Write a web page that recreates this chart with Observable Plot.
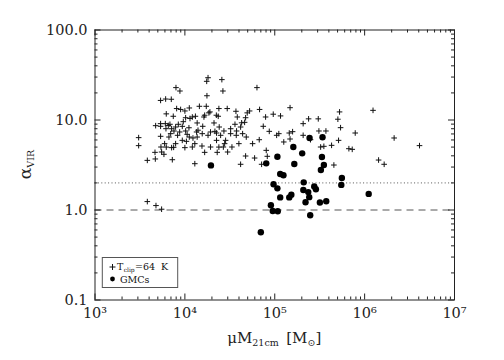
<!DOCTYPE html>
<html><head><meta charset="utf-8">
<script src="https://cdn.jsdelivr.net/npm/d3@7"></script>
<script src="https://cdn.jsdelivr.net/npm/@observablehq/plot@0.6"></script>
<style>
html,body{margin:0;padding:0;background:#fff;}
#chart{width:504px;height:360px;position:relative;}
svg{display:block;}
</style></head><body><div id="chart"></div>
<script>
// ---- data (mass in Msun, virial parameter) ----
const crossMass = [3.06e3,3.06e3,3.82e3,3.82e3,4.65e3,4.69e3,4.73e3,4.77e3,5.37e3,5.37e3,5.37e3,5.42e3,5.51e3,5.51e3,5.37e3,
6.11e3,6.21e3,6.06e3,6.16e3,5.85e3,5.95e3,7.06e3,7.12e3,7.25e3,6.82e3,6.95e3,6.65e3,7.96e3,7.43e3,7.50e3,7.56e3,7.89e3,
8.81e3,8.97e3,8.45e3,8.30e3,8.75e3,1.00e4,1.02e4,1.04e4,9.60e3,1.06e4,1.12e4,1.14e4,1.12e4,1.21e4,1.23e4,1.29e4,
1.45e4,1.37e4,1.35e4,1.55e4,1.56e4,1.66e4,1.58e4,1.66e4,1.81e4,1.75e4,1.76e4,1.73e4,1.90e4,1.81e4,1.93e4,
2.11e4,2.24e4,2.16e4,2.29e4,2.25e4,2.58e4,2.65e4,2.39e4,2.50e4,2.68e4,2.41e4,2.96e4,2.99e4,3.23e4,2.84e4,
3.70e4,3.83e4,3.61e4,3.73e4,3.34e4,3.99e4,4.17e4,4.94e4,4.62e4,4.39e4,4.74e4,4.82e4,6.34e4,5.67e4,5.97e4,
6.78e4,6.72e4,7.14e4,7.45e4,8.04e4,8.26e4,8.69e4,9.62e4,1.05e5,1.16e5,1.11e5,1.26e5,1.48e5,1.45e5,1.48e5,1.58e5,
2.07e5,2.07e5,2.38e5,2.50e5,3.05e5,3.10e5,3.24e5,3.71e5,3.52e5,4.29e5,4.55e5,5.04e5,5.26e5,5.40e5,5.13e5,
6.68e5,7.28e5,7.86e5,1.24e6,1.43e6,1.65e6,2.13e6,4.08e6,
8.1e3,1.0e4,1.21e4,1.31e4,1.63e4,1.85e4,2.35e4,4.28e4,4.74e4,5.25e4,7.91e4,6.54e3,7.12e3,9.36e3,1.02e4,1.11e4,
1.40e4,1.93e4,2.25e4,2.72e4,3.23e4,3.76e4,4.17e4,1.37e4,9.36e3,7.89e3,6.21e3,1.29e4,2.39e4,2.77e4];
const crossAlpha = [6.37,5.19,3.56,1.24,4.37,3.69,8.65,1.12,16.5,8.51,6.59,5.01,4.41,1.02,9.11,
17.1,11.7,9.11,8.01,4.16,5.46,17.0,4.93,3.62,8.96,7.05,6.47,22.9,11.0,4.97,7.55,8.36,
21.0,13.1,8.96,6.76,7.36,4.93,10.6,5.79,9.58,6.93,13.6,10.4,6.47,5.01,6.31,3.27,
14.2,9.27,7.36,5.14,7.05,4.37,8.51,11.3,29.5,26.9,18.6,14.2,12.3,6.76,5.01,
9.27,11.3,7.48,4.37,5.94,28.1,21.0,13.4,6.76,5.01,8.36,13.4,4.41,7.05,5.94,
12.5,10.8,8.96,6.76,5.01,5.46,3.22,12.0,9.42,7.05,3.98,6.47,22.9,5.46,3.78,
13.1,6.04,3.22,8.51,4.60,3.95,7.48,11.6,6.76,11.1,7.05,5.70,13.7,7.17,6.15,7.42,
9.11,6.76,10.3,6.04,10.3,7.55,5.01,7.55,5.10,5.23,3.16,10.2,12.3,8.22,5.94,
4.80,4.72,7.17,12.8,3.59,3.22,6.31,5.19,
13.4,12.6,10.8,11.0,10.8,12.0,11.0,9.3,10.6,12.6,10.8,8.7,8.0,8.5,7.55,8.2,
7.7,7.36,7.17,7.55,8.0,7.55,8.36,6.47,5.94,5.46,5.0,5.46,5.0,5.46];
const gmcMass = [1.95e4,8.04e4,1.07e5,1.61e5,2.44e5,3.40e5,2.02e5,3.35e5,1.65e5,3.52e5,3.26e5,1.15e5,1.25e5,9.7e4,1.07e5,
2.10e5,2.08e5,2.36e5,2.75e5,2.87e5,2.42e5,2.20e5,1.15e5,1.45e5,1.53e5,3.18e5,3.74e5,5.58e5,5.50e5,1.11e6,
9.06e4,9.5e4,1.08e5,2.48e5,7.0e4];
const gmcAlpha = [3.13,3.30,3.91,5.01,6.31,6.42,4.26,3.88,3.25,3.16,2.78,2.51,2.43,1.93,1.74,
2.03,1.67,1.58,1.83,1.70,1.39,1.22,1.38,1.38,1.48,1.21,1.25,2.27,1.90,1.51,
1.13,0.975,0.97,0.873,0.565];
const xMajor = [1e3,1e4,1e5,1e6,1e7];
const yMajor = [0.1,1,10,100];
const refDotted = [2];
const refDashed = [1];
const legendLabels = ["T", "clip", "=64  K", "GMCs"];

// ---- build ----
const crosses = crossMass.map((m,i)=>({m, a: crossAlpha[i]}));
const gmcs = gmcMass.map((m,i)=>({m, a: gmcAlpha[i]}));
const xMinor = [], yMinor = [];
for (const d of [1e3,1e4,1e5,1e6]) for (let k=2;k<10;k++) xMinor.push(k*d);
for (const d of [0.1,1,10]) for (let k=2;k<10;k++) yMinor.push(+(k*d).toPrecision(3));

const W = 504, H = 360, mL = 94.5, mR = 50, mT = 29.5, mB = 60.5;
const iw = W - mL - mR, ih = H - mT - mB;
const ink = "#222";
const sup = "⁰¹²³⁴⁵⁶⁷⁸⁹";
const plusSym = {draw(ctx, size){ const h = Math.sqrt(size/Math.PI); ctx.moveTo(-h,0); ctx.lineTo(h,0); ctx.moveTo(0,-h); ctx.lineTo(0,h);} };

const chart = Plot.plot({
  width: W, height: H, marginLeft: mL, marginRight: mR, marginTop: mT, marginBottom: mB,
  style: {fontFamily: "DejaVu Serif", fontSize: "14.5px", background: "#fff", color: ink},
  x: {type: "log", domain: [1e3, 1e7], axis: null},
  y: {type: "log", domain: [0.1, 100], axis: null},
  marks: [
    Plot.ruleY(refDotted, {stroke: "#555", strokeWidth: 1, strokeDasharray: "1,2.4"}),
    Plot.ruleY(refDashed, {stroke: "#555", strokeWidth: 1, strokeDasharray: "7,5"}),
    // ticks, inward on all four sides
    Plot.ruleX(xMajor, {stroke: ink, insetTop: ih - 6}),
    Plot.ruleX(xMajor, {stroke: ink, insetBottom: ih - 6}),
    Plot.ruleX(xMinor, {stroke: ink, insetTop: ih - 3}),
    Plot.ruleX(xMinor, {stroke: ink, insetBottom: ih - 3}),
    Plot.ruleY(yMajor, {stroke: ink, insetRight: iw - 6}),
    Plot.ruleY(yMajor, {stroke: ink, insetLeft: iw - 6}),
    Plot.ruleY(yMinor, {stroke: ink, insetRight: iw - 3}),
    Plot.ruleY(yMinor, {stroke: ink, insetLeft: iw - 3}),
    Plot.axisX(xMajor, {anchor: "bottom", tickSize: 0, tickPadding: 8, fontSize: 14.5, label: null,
      tickFormat: d => "10" + String(Math.round(Math.log10(d))).split("").map(c => sup[+c]).join("")}),
    Plot.axisY(yMajor, {anchor: "left", tickSize: 0, tickPadding: 7.5, fontSize: 14.5, label: null,
      tickFormat: d3.format(".1f")}),
    Plot.dot(crosses, {x: "m", y: "a", symbol: plusSym, r: 2.8, stroke: "#111", strokeWidth: 1}),
    Plot.dot(gmcs, {x: "m", y: "a", r: 3.2, fill: "#000", stroke: "none"}),
    Plot.frame({stroke: ink, strokeWidth: 1})
  ]
});
document.getElementById("chart").appendChild(chart);

const svg = d3.select(chart);
// x title
const xt = svg.append("text").attr("x", mL + iw/2).attr("y", 343).attr("text-anchor", "middle")
  .attr("font-family", "DejaVu Serif").attr("font-size", 15).attr("fill", ink);
xt.append("tspan").text("μM");
xt.append("tspan").attr("font-size", 9.5).attr("dy", 3).text("21cm");
xt.append("tspan").attr("dy", -3).text("\u2002[M");
xt.append("tspan").attr("font-size", 9.5).attr("dy", 3).text("⊙");
xt.append("tspan").attr("dy", -3).text("]");
// y title
const yt = svg.append("text").attr("transform", `translate(31,${mT + ih/2}) rotate(-90)`).attr("text-anchor", "middle")
  .attr("font-family", "DejaVu Serif").attr("font-size", 17).attr("fill", ink);
yt.append("tspan").text("α");
yt.append("tspan").attr("font-size", 9.5).attr("dy", 3).text("VIR");

// legend
const lg = svg.append("g").attr("font-family", "DejaVu Serif").attr("fill", "#111").attr("text-anchor", "start");
lg.append("rect").attr("x", 102.3).attr("y", 257.5).attr("width", 75.4).attr("height", 30)
  .attr("fill", "#fff").attr("stroke", "#555").attr("stroke-width", 1);
lg.append("path").attr("d", "M109.5,267h6M112.5,264v6").attr("stroke", "#111").attr("fill", "none");
let lx = 117;
const tT = lg.append("text").attr("x", lx).attr("y", 270.3).attr("font-size", 9.5).text(legendLabels[0]);
lx += tT.node().getComputedTextLength() + 0.3;
const tC = lg.append("text").attr("x", lx).attr("y", 272.2).attr("font-size", 6).text(legendLabels[1]);
lx += tC.node().getComputedTextLength() + 0.3;
lg.append("text").attr("x", lx).attr("y", 270.3).attr("font-size", 9.5).style("white-space", "pre").text(legendLabels[2]);
lg.append("circle").attr("cx", 112.5).attr("cy", 279).attr("r", 2.4).attr("fill", "#000");
lg.append("text").attr("x", 120).attr("y", 283).attr("font-size", 9.5).text(legendLabels[3]);
</script></body></html>
